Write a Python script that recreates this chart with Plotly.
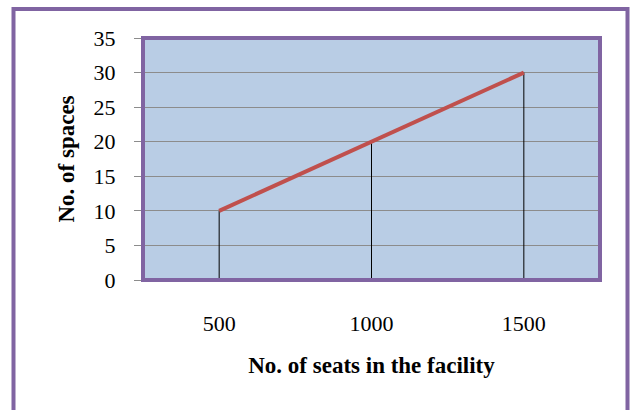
import plotly.graph_objects as go

# Parking requirement vs. facility size
seats = [500, 1000, 1500]
spaces = [10, 20, 30]
x_ticks = [500, 1000, 1500]
y_ticks = [0, 5, 10, 15, 20, 25, 30, 35]

PURPLE = "#8064A2"
RED = "#C0504D"
SERIF = "Liberation Serif, Times New Roman, serif"

fig = go.Figure()

# vertical drop lines from each point down to the axis
for sx, sy in zip(seats, spaces):
    fig.add_trace(go.Scatter(
        x=[sx, sx], y=[0, sy], mode="lines",
        line=dict(color="black", width=1), hoverinfo="skip", showlegend=False))

fig.add_trace(go.Scatter(
    x=seats, y=spaces, mode="lines",
    line=dict(color=RED, width=4), showlegend=False))

# plot-area border
fig.add_shape(type="rect", xref="paper", yref="paper", x0=0, x1=1, y0=0, y1=1,
              line=dict(color=PURPLE, width=4), layer="above")
# outer chart frame
fig.add_shape(type="rect", xref="paper", yref="paper",
              x0=(13.5 - 143) / 457, x1=(627.5 - 143) / 457,
              y0=(280 - 430) / 242, y1=(280 - 9) / 242,
              line=dict(color=PURPLE, width=4), layer="above")

fig.update_layout(
    width=630, height=410,
    margin=dict(l=143, r=30, t=38, b=130),
    paper_bgcolor="white", plot_bgcolor="#B9CDE5",
    font=dict(family=SERIF, color="black"),
    xaxis=dict(
        range=[250, 1750], tickvals=x_ticks, ticktext=[str(v) for v in x_ticks],
        showgrid=False, zeroline=False, showline=False, ticks="",
        tickfont=dict(size=22), ticklabelstandoff=28,
        title=dict(text="<b>No. of seats in the facility</b>",
                   font=dict(size=23), standoff=21),
    ),
    yaxis=dict(
        range=[0, 35], tickvals=y_ticks,
        showgrid=True, gridcolor="#8C8C8C", gridwidth=1, zeroline=False,
        showline=False, ticks="outside", ticklen=8, tickcolor="#8C8C8C",
        tickfont=dict(size=22), ticklabelstandoff=14,
        title=dict(text="<b>No. of spaces</b>", font=dict(size=23), standoff=12),
    ),
)

fig.write_html("out.html")
